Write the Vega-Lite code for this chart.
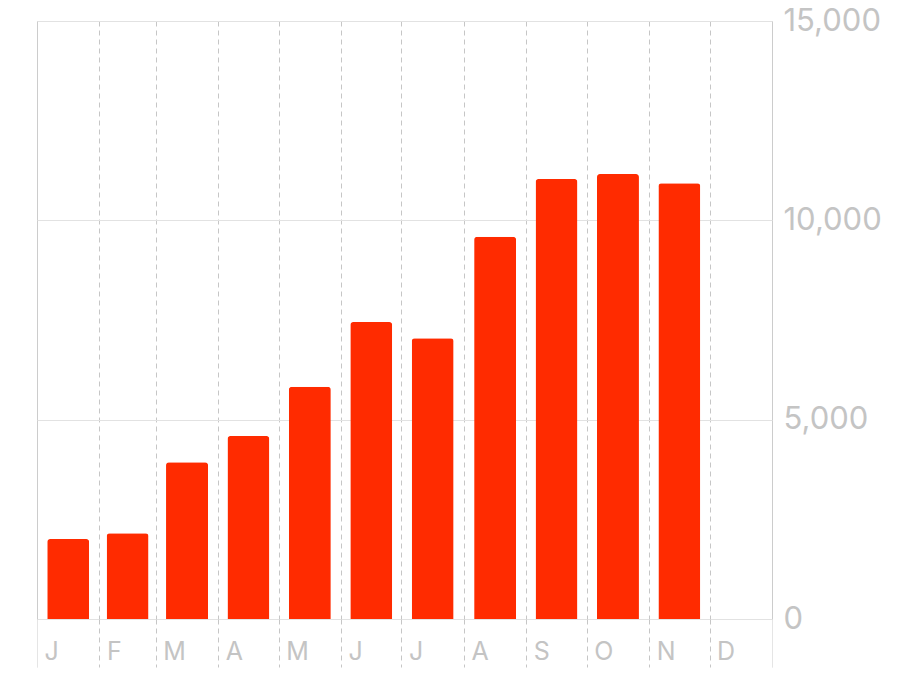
{
  "$schema": "https://vega.github.io/schema/vega-lite/v6.json",
  "width": 735,
  "height": 598,
  "autosize": {"type": "none"},
  "padding": {"left": 37, "top": 21, "right": 128, "bottom": 60},
  "background": "white",
  "config": {
    "view": {"stroke": "#dcdcdc", "strokeWidth": 1},
    "font": "Inter"
  },
  "data": {
    "values": [
      {"month": "2023-01-01", "value": 2005},
      {"month": "2023-02-01", "value": 2150},
      {"month": "2023-03-01", "value": 3930},
      {"month": "2023-04-01", "value": 4590},
      {"month": "2023-05-01", "value": 5827},
      {"month": "2023-06-01", "value": 7449},
      {"month": "2023-07-01", "value": 7040},
      {"month": "2023-08-01", "value": 9589},
      {"month": "2023-09-01", "value": 11036},
      {"month": "2023-10-01", "value": 11161},
      {"month": "2023-11-01", "value": 10928}
    ]
  },
  "mark": {"type": "bar", "color": "#ff2b00", "width": 42, "cornerRadiusEnd": 3},
  "encoding": {
    "x": {
      "field": "month",
      "timeUnit": "utcyearmonth",
      "type": "temporal",
      "title": null,
      "scale": {
        "type": "utc",
        "domain": [
          {"year": 2023, "month": 1, "date": 1, "utc": true},
          {"year": 2024, "month": 1, "date": 1, "utc": true}
        ],
        "nice": false
      },
      "axis": {
        "orient": "bottom",
        "tickCount": {"interval": "month", "step": 1},
        "domain": false,
        "grid": true,
        "gridColor": "#c6c6c6",
        "gridDash": {"condition": {"test": "utcmonth(datum.value) == 0", "value": [1, 0]}, "value": [5, 4]},
        "gridWidth": 1,
        "ticks": true,
        "tickSize": 48,
        "tickColor": {"condition": {"test": "utcmonth(datum.value) == 0", "value": "#dcdcdc"}, "value": "#c6c6c6"},
        "tickDash": {"condition": {"test": "utcmonth(datum.value) == 0", "value": [1, 0]}, "value": [5, 4]},
        "tickWidth": 1,
        "labelExpr": "utcyear(datum.value) > 2023 ? '' : slice(utcFormat(datum.value, '%b'), 0, 1)",
        "labelAlign": "left",
        "labelBaseline": "middle",
        "labelOffset": 7,
        "labelPadding": -16,
        "labelFontSize": 25,
        "labelColor": "#c4c4c4",
        "labelFlush": false,
        "labelOverlap": false
      }
    },
    "y": {
      "field": "value",
      "type": "quantitative",
      "title": null,
      "scale": {"domain": [0, 15000], "nice": false},
      "axis": {
        "orient": "right",
        "values": [0, 5000, 10000, 15000],
        "format": ",d",
        "domain": false,
        "ticks": false,
        "grid": true,
        "gridColor": "#e2e2e2",
        "labelPadding": 11,
        "labelFontSize": 31,
        "labelColor": "#c4c4c4",
        "labelBaseline": "middle",
        "labelFlush": false
      }
    }
  }
}
